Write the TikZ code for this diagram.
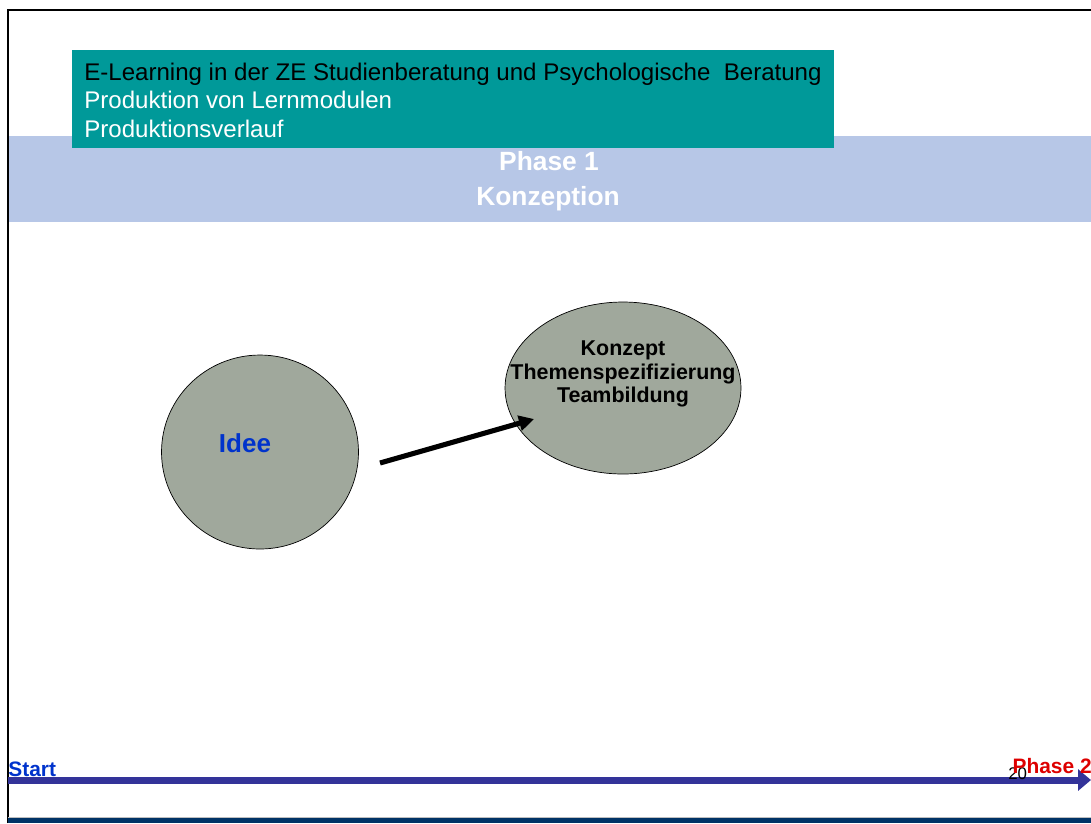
\documentclass[tikz,border=0pt]{standalone}
\usepackage{fontspec}
\setmainfont{Liberation Sans}
\usepackage{xcolor}
\usepackage{tikz}
\usetikzlibrary{arrows.meta,positioning,shapes.geometric}

\definecolor{headteal}{HTML}{009999}
\definecolor{band}{HTML}{B7C7E7}
\definecolor{blob}{HTML}{A0A89C}
\definecolor{ideeblue}{HTML}{0033CC}
\definecolor{lineblue}{HTML}{333399}
\definecolor{navy}{HTML}{003366}
\definecolor{phasered}{HTML}{DD0000}

\begin{document}
\begin{tikzpicture}[x=0.02cm,y=-0.02cm,>=Latex,
    blobnode/.style={ellipse,draw=black,thin,fill=blob,inner sep=0pt},
    px/.style={font=\fontsize{#1}{#1}\selectfont},
    pxb/.style={font=\fontsize{#1}{#1}\selectfont\bfseries}]
\useasboundingbox (0,0) rectangle (1091,823);

% Kopfbereich
\fill[band] (8,136) rectangle (1091,222);
\fill[headteal] (72,50) rectangle (834,148);
\node[anchor=base west,inner sep=0pt,px=13.7pt] (h1) at (84,80) {E-Learning in der ZE Studienberatung und Psychologische\ \ Beratung};
\node[anchor=base west,inner sep=0pt,px=13.7pt,white] (h2) at (84,108) {Produktion von Lernmodulen};
\node[anchor=base west,inner sep=0pt,px=13.7pt,white] (h3) at (84,137) {Produktionsverlauf};
\node[anchor=base,inner sep=0pt,pxb=15pt,white] (ph1) at (549,170) {Phase 1};
\node[anchor=base,inner sep=0pt,pxb=15pt,white] (konz) at (548,205) {Konzeption};

% Rahmen
\draw[line width=1.2pt] (8,823) -- (8,10) -- (1091,10);

% Ellipsen
\node[blobnode,minimum width=3.94cm,minimum height=3.88cm] (idee) at (260,452) {};
\node[ideeblue,pxb=14.8pt] (ideetxt) at (245,443) {Idee};
\node[blobnode,minimum width=4.72cm,minimum height=3.44cm] (konzept) at (623,388) {};
\node[align=center,font=\fontsize{12.2pt}{13.4pt}\selectfont\bfseries,inner sep=0pt] (konzepttxt) at (623,374)
  {Konzept\\Themenspezifizierung\\Teambildung};

\coordinate (arrS) at (380,463);
\coordinate (arrE) at (534,419);
\draw[line width=2.9pt,-{Triangle[length=0.3cm,width=0.3cm]}] (arrS) -- (arrE);

% Zeitleiste
\coordinate (tlS) at (8,780);
\coordinate (tlE) at (1091,780);
\draw[lineblue,line width=4pt,-{Triangle[length=0.26cm,width=0.42cm]}] (tlS) -- (tlE);
\node[anchor=base west,inner sep=0pt,ideeblue,pxb=11.9pt] (start) at (8,776) {Start};
\node[anchor=base west,inner sep=0pt,px=9.6pt] (pnum) at (1008,779) {20};
\node[anchor=base east,inner sep=0pt,phasered,pxb=11.9pt] (ph2) at (1092,773) {Phase 2};

\fill[black!25] (8,816.5) rectangle (1091,823);
\fill[navy] (8,818) rectangle (1091,823);
\end{tikzpicture}
\end{document}
